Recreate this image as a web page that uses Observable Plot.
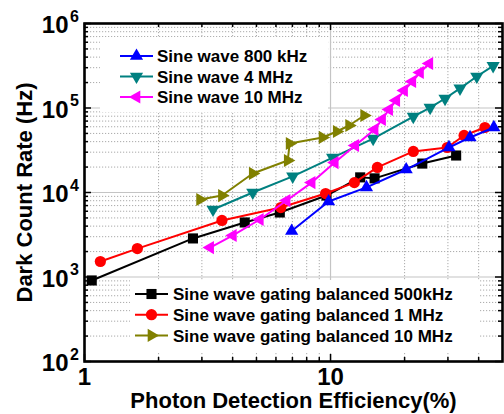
<!DOCTYPE html>
<html><head><meta charset="utf-8">
<script src="https://cdn.jsdelivr.net/npm/d3@7"></script>
<script src="https://cdn.jsdelivr.net/npm/@observablehq/plot@0.6"></script>
<style>body{margin:0;background:#fff;} svg{display:block;}</style>
</head><body><div id="chart"></div>
<script>
// ---- data ----
const pde500k = [1.07, 2.76, 4.48, 6.22, 9.63, 13.2, 15.1, 23.6, 32.4];
const dcr500k = [910, 2860, 4420, 5800, 9200, 15100, 14700, 22000, 27400];

const pde1M = [1.16, 1.64, 3.62, 6.28, 9.55, 12.5, 15.5, 21.7, 29.8, 34.9, 42.4];
const dcr1M = [1525, 2170, 4670, 6640, 9720, 13100, 19800, 30600, 34100, 47300, 58800];

const pde10Mbal = [2.95, 3.62, 4.83, 6.70, 6.82, 9.28, 10.6, 11.9, 13.7];
const dcr10Mbal = [8260, 9200, 16800, 23900, 38000, 44800, 52700, 62100, 81500];

const pde800k = [6.95, 9.82, 14.0, 20.3, 30.3, 36.9, 46.1];
const dcr800k = [3500, 7820, 11500, 18700, 34100, 44800, 58800];

const pde4M = [3.33, 4.83, 7.02, 10.2, 14.9, 21.7, 25.4, 29.2, 33.6, 39.3, 45.8];
const dcr4M = [6300, 10000, 15500, 25900, 43500, 79300, 101000, 129500, 171000, 236000, 315000];

const pde10M = [3.24, 4.01, 5.16, 6.63, 8.38, 10.4, 12.6, 15.1, 16.2, 17.3, 18.5, 19.9, 21.5, 23.1, 25.2];
const dcr10M = [2230, 3100, 4790, 8030, 13100, 22600, 36000, 55700, 73200, 96000, 123000, 161000, 206000, 263000, 336000];

const seriesNames = [
  "Sine wave gating balanced 500kHz",
  "Sine wave gating balanced 1 MHz",
  "Sine wave gating balanced 10 MHz",
  "Sine wave 800 kHz",
  "Sine wave 4 MHz",
  "Sine wave 10 MHz"
];
const seriesColors = ["#000000", "#ff0000", "#808000", "#0000ff", "#008080", "#ff00ff"];

const xMajor = [1, 10];
const xMinor = [2, 3, 4, 5, 6, 7, 8, 9, 20, 30, 40];
const yMajor = [1e2, 1e3, 1e4, 1e5, 1e6];
const yMinorMantissa = [2, 3, 4, 5, 6, 7, 8, 9];
const yDecades = [1e2, 1e3, 1e4, 1e5];

const xTitle = "Photon Detection Efficiency(%)";
const yTitle = "Dark Count Rate (Hz)";

// ---- layout ----
const W = 504, H = 414, mL = 84, mR = 2, mT = 23, mB = 53;
const innerW = W - mL - mR, innerH = H - mT - mB;
const FONT = "'Liberation Sans', Arial, Helvetica, sans-serif";

function tri(angleDeg) {
  return {
    draw(ctx, size) {
      const R = Math.sqrt(size / (3 * Math.sqrt(3) / 4));
      for (let k = 0; k < 3; k++) {
        const a = (angleDeg + 120 * k) * Math.PI / 180;
        const x = R * Math.cos(a), y = R * Math.sin(a);
        if (k) ctx.lineTo(x, y); else ctx.moveTo(x, y);
      }
      ctx.closePath();
    }
  };
}
const triUp = tri(-90), triDown = tri(90), triLeft = tri(180), triRight = tri(0);

const xs = [pde500k, pde1M, pde10Mbal, pde800k, pde4M, pde10M];
const ys = [dcr500k, dcr1M, dcr10Mbal, dcr800k, dcr4M, dcr10M];
const symbols = [d3.symbolSquare, d3.symbolCircle, triRight, triUp, triDown, triLeft];
const symbolR = [5.7, 5.6, 4.9, 4.9, 4.9, 4.9];

const series = seriesNames.map((name, i) => ({
  name, color: seriesColors[i], symbol: symbols[i], r: symbolR[i],
  data: xs[i].map((x, j) => ({x, y: ys[i][j]}))
}));

const yMinor = yDecades.flatMap(d => yMinorMantissa.map(m => m * d));

const gridMinorStyle = {stroke: "#aaaaaa", strokeDasharray: "1.2,1.8", strokeWidth: 1};
const gridMajorStyle = {stroke: "#c4c4c4", strokeWidth: 1.2};

const marks = [
  Plot.ruleX(xMinor, {x: d => d, ...gridMinorStyle}),
  Plot.ruleY(yMinor, {y: d => d, ...gridMinorStyle}),
  Plot.ruleX(xMajor, {x: d => d, ...gridMajorStyle}),
  Plot.ruleY(yMajor, {y: d => d, ...gridMajorStyle}),
];
for (const s of series) {
  marks.push(Plot.line(s.data, {x: "x", y: "y", stroke: s.color, strokeWidth: 2}));
  marks.push(Plot.dot(s.data, {x: "x", y: "y", symbol: () => s.symbol, r: s.r, fill: s.color, stroke: "none"}));
}
// inward ticks on all four sides
const tk = {stroke: "black", strokeWidth: 1.5};
marks.push(
  Plot.tickX(xMajor, {x: d => d, insetTop: innerH - 7, ...tk}),
  Plot.tickX(xMajor, {x: d => d, insetBottom: innerH - 7, ...tk}),
  Plot.tickX(xMinor, {x: d => d, insetTop: innerH - 4, ...tk}),
  Plot.tickX(xMinor, {x: d => d, insetBottom: innerH - 4, ...tk}),
  Plot.tickY(yMajor, {y: d => d, insetRight: innerW - 7, ...tk}),
  Plot.tickY(yMajor, {y: d => d, insetLeft: innerW - 7, ...tk}),
  Plot.tickY(yMinor, {y: d => d, insetRight: innerW - 4, ...tk}),
  Plot.tickY(yMinor, {y: d => d, insetLeft: innerW - 4, ...tk}),
  Plot.frame({stroke: "black", strokeWidth: 2.6}),
  // tick labels
  Plot.text(yMajor, {y: d => d, frameAnchor: "left", text: () => "10", textAnchor: "end", lineAnchor: "middle", dx: -16, dy: 2, fontSize: 24, fontWeight: "bold", fill: "black"}),
  Plot.text(yMajor, {y: d => d, frameAnchor: "left", text: d => String(Math.round(Math.log10(d))), textAnchor: "start", lineAnchor: "middle", dx: -14.5, dy: -7, fontSize: 16, fontWeight: "bold", fill: "black"}),
  Plot.text(xMajor, {x: d => d, frameAnchor: "bottom", text: d => String(d), textAnchor: "middle", lineAnchor: "top", dy: 6, fontSize: 24, fontWeight: "bold", fill: "black"}),
  // axis titles
  Plot.text([xTitle], {frameAnchor: "bottom", text: d => d, textAnchor: "middle", lineAnchor: "middle", dy: 39, fontSize: 22, fontWeight: "bold", fill: "black"}),
  Plot.text([yTitle], {frameAnchor: "left", text: d => d, textAnchor: "middle", lineAnchor: "middle", dx: -60, rotate: -90, fontSize: 22, fontWeight: "bold", fill: "black"})
);

const chart = Plot.plot({
  width: W, height: H,
  marginLeft: mL, marginRight: mR, marginTop: mT, marginBottom: mB,
  x: {type: "log", domain: [1, 50], axis: null},
  y: {type: "log", domain: [100, 1e6], axis: null},
  style: {fontFamily: FONT, background: "white", color: "black", overflow: "visible"},
  marks
});
document.getElementById("chart").appendChild(chart);

// ---- in-plot legends ----
const svg = d3.select(chart);
function legend(box, idx) {
  const g = svg.append("g").attr("font-family", FONT);
  g.append("rect").attr("x", box.x).attr("y", box.y).attr("width", box.w).attr("height", box.h).attr("fill", "white");
  idx.forEach((si, i) => {
    const s = series[si];
    const cy = box.y0 + i * box.dy;
    g.append("line").attr("x1", box.lx1).attr("x2", box.lx2).attr("y1", cy).attr("y2", cy)
      .attr("stroke", s.color).attr("stroke-width", 2);
    g.append("path").attr("transform", `translate(${(box.lx1 + box.lx2) / 2},${cy})`)
      .attr("d", d3.symbol(s.symbol, Math.PI * s.r * s.r)()).attr("fill", s.color);
    g.append("text").attr("x", box.tx).attr("y", cy).attr("dy", "0.36em")
      .attr("text-anchor", "start")
      .attr("font-size", 17).attr("font-weight", "bold").attr("fill", "black").text(s.name);
  });
}
legend({x: 100, y: 37, w: 228, h: 75, y0: 56, dy: 20.5, lx1: 120, lx2: 153, tx: 157}, [3, 4, 5]);
legend({x: 130, y: 280, w: 350, h: 73, y0: 294, dy: 20.7, lx1: 135, lx2: 168, tx: 173}, [0, 1, 2]);
</script>
</body></html>
